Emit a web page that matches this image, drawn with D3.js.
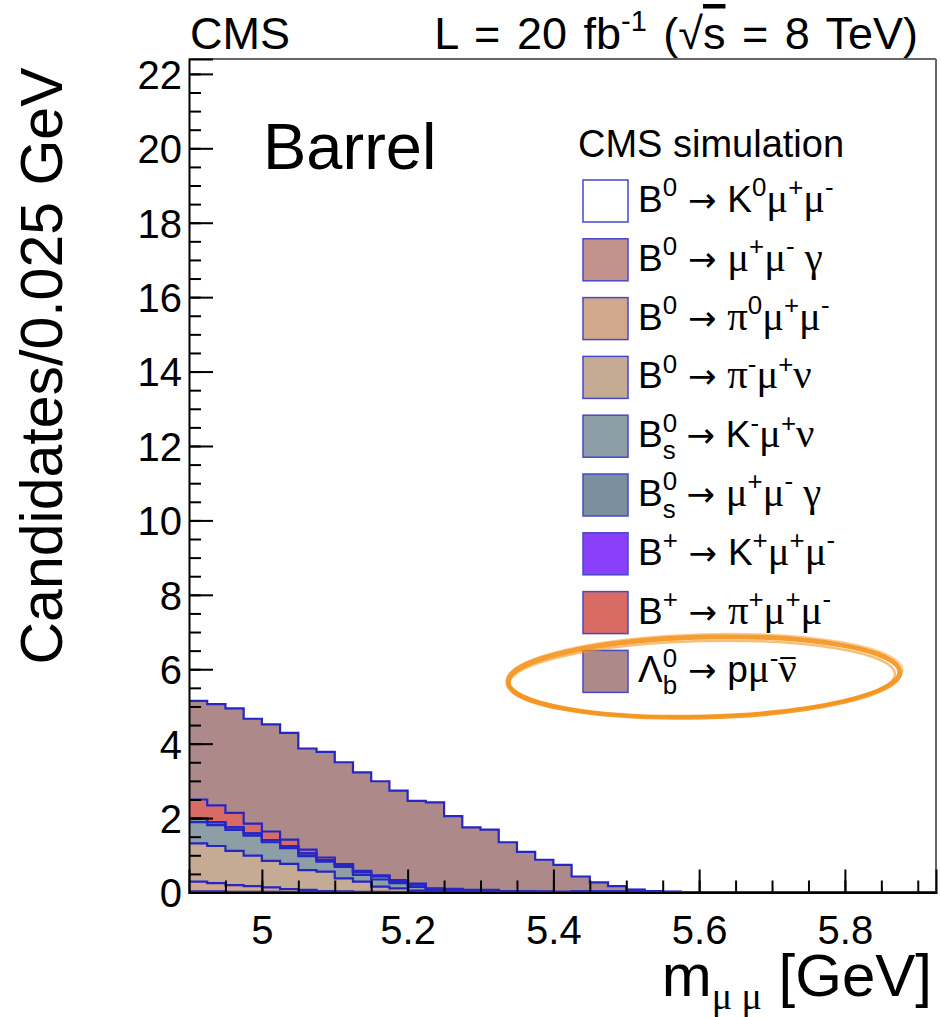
<!DOCTYPE html>
<html>
<head>
<meta charset="utf-8">
<script src="https://cdn.jsdelivr.net/npm/d3@7"></script>
<style>
  body { margin: 0; background: #fff; }
  text { font-family: "Liberation Sans", Arial, sans-serif; fill: #000; }
  .greek { font-family: "Liberation Serif", serif; }
</style>
</head>
<body>
<div id="viz"></div>
<script>
// bins: 4.9 .. 5.925 GeV, 0.025 GeV wide (41 bins)
const binLow = 4.9;
const binWidth = 0.025;

// per-bin candidates, one array per channel (stacking order, bottom first)
const k0mumu      = [0,0,0,0,0,0,0,0,0,0,0,0,0,0,0,0,0,0,0,0,0,0,0,0,0,0,0,0,0,0,0,0,0,0,0,0,0,0,0,0,0];
const b0mumugamma = [0.03,0.03,0.02,0.02,0.02,0.01,0.01,0.01,0,0,0,0,0,0,0,0,0,0,0,0,0,0,0,0,0,0,0,0,0,0,0,0,0,0,0,0,0,0,0,0,0];
const pi0mumu     = [0.26,0.22,0.18,0.15,0.12,0.08,0.06,0.03,0.03,0.02,0.02,0.01,0.01,0,0,0,0,0,0,0,0,0,0,0,0,0,0,0,0,0,0,0,0,0,0,0,0,0,0,0,0];
const pimunu      = [1.03,1.00,0.92,0.82,0.71,0.68,0.53,0.52,0.35,0.27,0.14,0.10,0.04,0.02,0.02,0.01,0.01,0,0,0,0,0,0,0,0,0,0,0,0,0,0,0,0,0,0,0,0,0,0,0,0];
const bsKmunu     = [0.57,0.56,0.56,0.54,0.50,0.42,0.38,0.27,0.31,0.18,0.19,0.14,0.10,0.04,0.03,0.02,0.02,0.01,0.01,0,0,0,0,0,0,0,0,0,0,0,0,0,0,0,0,0,0,0,0,0,0];
const bsmumugamma = [0.10,0.08,0.07,0.06,0.06,0.06,0.07,0.04,0.06,0.08,0.09,0.06,0.07,0.03,0.03,0.02,0.02,0.01,0.01,0.01,0.01,0,0,0,0,0,0,0,0,0,0,0,0,0,0,0,0,0,0,0,0];
const bpKmumu     = [0,0,0,0,0,0,0,0,0,0,0,0,0,0.01,0.01,0.01,0.01,0.01,0.01,0.01,0.01,0.03,0.03,0.03,0.07,0.04,0.02,0,0,0,0,0,0,0,0,0,0,0,0,0,0];
const bpimumu     = [0.51,0.45,0.39,0.26,0.23,0.17,0.10,0.07,0.01,0.03,0.02,0.02,0.02,0.01,0.01,0.01,0.01,0.01,0,0.01,0,0,0,0,0,0,0,0,0,0,0,0,0,0,0,0,0,0,0,0,0];
const lambdab     = [2.65,2.72,2.81,2.82,2.88,2.87,2.72,2.84,2.74,2.65,2.53,2.41,2.22,2.31,1.95,1.68,1.62,1.31,1.06,0.85,0.72,0.40,0.24,0.14,0,0,0,0,0,0,0,0,0,0,0,0,0,0,0,0,0];

const channels = [k0mumu, b0mumugamma, pi0mumu, pimunu, bsKmunu, bsmumugamma, bpKmumu, bpimumu, lambdab];
const colors = ["#ffffff", "#c4928c", "#d2a88c", "#c6ab94", "#8d9ea6", "#7a909e", "#8a40fa", "#d86c64", "#ad8a89"];

// legend labels: [text, kind]
const labels = [
  [["B",""],["0","sup"],[" → ","arr"],["K",""],["0","sup"],["μ","g"],["+","sup"],["μ","g"],["-","sup"]],
  [["B",""],["0","sup"],[" → ","arr"],["μ","g"],["+","sup"],["μ","g"],["-","sup"],[" γ","g"]],
  [["B",""],["0","sup"],[" → ","arr"],["π","g"],["0","sup"],["μ","g"],["+","sup"],["μ","g"],["-","sup"]],
  [["B",""],["0","sup"],[" → ","arr"],["π","g"],["-","sup"],["μ","g"],["+","sup"],["ν","g"]],
  [["B",""],["0","sup"],["s","sub0"],[" → ","arr"],["K",""],["-","sup"],["μ","g"],["+","sup"],["ν","g"]],
  [["B",""],["0","sup"],["s","sub0"],[" → ","arr"],["μ","g"],["+","sup"],["μ","g"],["-","sup"],[" γ","g"]],
  [["B",""],["+","sup"],[" → ","arr"],["K",""],["+","sup"],["μ","g"],["+","sup"],["μ","g"],["-","sup"]],
  [["B",""],["+","sup"],[" → ","arr"],["π","g"],["+","sup"],["μ","g"],["+","sup"],["μ","g"],["-","sup"]],
  [["Λ",""],["0","sup"],["b","sub0"],[" → ","arr"],["p",""],["μ","g"],["-","sup"],["ν","bar"]]
];

const yMajor = [0, 2, 4, 6, 8, 10, 12, 14, 16, 18, 20, 22];
const xMajor = [5, 5.2, 5.4, 5.6, 5.8];

const width = 941, height = 1017;
const plotLeft = 189, plotRight = 936, plotTop = 59, plotBottom = 892.5;
const lineBlue = "#2626c4";

const svg = d3.select("#viz").append("svg")
  .attr("width", width).attr("height", height);

const x = d3.scaleLinear().domain([4.9, 5.925]).range([plotLeft, plotRight]);
const y = d3.scaleLinear().domain([0, 22.4]).range([plotBottom, plotTop]);

svg.append("clipPath").attr("id", "plotclip")
  .append("rect").attr("x", plotLeft).attr("y", plotTop)
  .attr("width", plotRight - plotLeft).attr("height", plotBottom - plotTop);

// cumulative stacks
const nBins = lambdab.length;
let running = d3.range(nBins).map(() => 0);
const stacks = channels.map(ch => {
  running = running.map((v, i) => v + ch[i]);
  return running.slice();
});

function stepPts(cum) {
  const pts = cum.map((v, i) => [binLow + i * binWidth, v]);
  pts.push([binLow + nBins * binWidth, cum[nBins - 1]]);
  return pts;
}

const area = d3.area().curve(d3.curveStepAfter)
  .x(d => x(d[0])).y0(y(0)).y1(d => y(d[1]));
const line = d3.line().curve(d3.curveStepAfter)
  .x(d => x(d[0])).y(d => y(d[1]));

const hist = svg.append("g").attr("clip-path", "url(#plotclip)");
// draw from the top of the stack down
for (let k = stacks.length - 1; k >= 0; k--) {
  hist.append("path").attr("d", area(stepPts(stacks[k]))).attr("fill", colors[k]);
}
for (let k = stacks.length - 1; k >= 0; k--) {
  hist.append("path").attr("d", line(stepPts(stacks[k])))
    .attr("fill", "none").attr("stroke", lineBlue).attr("stroke-width", 2.2);
}

// frame
svg.append("line").attr("x1", plotLeft).attr("x2", plotRight).attr("y1", plotTop).attr("y2", plotTop)
  .attr("stroke", "#666").attr("stroke-width", 2);
svg.append("line").attr("x1", plotRight).attr("x2", plotRight).attr("y1", plotTop).attr("y2", plotBottom)
  .attr("stroke", "#666").attr("stroke-width", 2);

// y axis
const yAxis = svg.append("g").attr("transform", "translate(" + plotLeft + ",0)")
  .call(d3.axisLeft(y).tickValues(yMajor).tickSize(-24).tickPadding(7));
svg.append("g").attr("transform", "translate(" + plotLeft + ",0)")
  .call(d3.axisLeft(y).tickValues(d3.range(0, 22.5, 0.5)).tickSize(-12).tickFormat(""))
  .call(g => g.select(".domain").remove());
yAxis.selectAll("text").attr("font-size", 40).attr("dy", "0.36em")
  .style("font-family", "Liberation Sans, Arial, sans-serif");

// x axis
const xAxis = svg.append("g").attr("transform", "translate(0," + plotBottom + ")")
  .call(d3.axisBottom(x).tickValues(xMajor).tickSize(-23).tickPadding(23).tickFormat(d3.format("")));
svg.append("g").attr("transform", "translate(0," + plotBottom + ")")
  .call(d3.axisBottom(x).tickValues(d3.range(4.95, 5.93, 0.05)).tickSize(-12).tickFormat(""))
  .call(g => g.select(".domain").remove());
xAxis.selectAll("text").attr("font-size", 40)
  .style("font-family", "Liberation Sans, Arial, sans-serif");
svg.selectAll(".domain").attr("stroke", "#000").attr("stroke-width", 2);
svg.selectAll(".tick line").attr("stroke", "#000").attr("stroke-width", 2);

// axis titles
svg.append("text")
  .attr("transform", "translate(62,366) rotate(-90)")
  .attr("text-anchor", "middle").attr("font-size", 59)
  .text("Candidates/0.025 GeV");

const xt = svg.append("text").attr("x", 932).attr("y", 996)
  .attr("text-anchor", "end").attr("font-size", 60);
xt.append("tspan").text("m");
xt.append("tspan").attr("class", "greek").attr("font-size", 38).attr("dy", 13).text("μ μ");
xt.append("tspan").attr("dy", -13).text(" [GeV]");

// header
svg.append("text").attr("x", 190).attr("y", 49).attr("font-size", 45).text("CMS");
const hd = svg.append("text").attr("x", 918).attr("y", 49).attr("text-anchor", "end")
  .attr("font-size", 45).style("word-spacing", "4px");
hd.append("tspan").text("L = 20 fb");
hd.append("tspan").attr("font-size", 29).attr("dy", -18).text("-1");
hd.append("tspan").attr("dy", 18).text(" (√");
hd.append("tspan").style("text-decoration", "overline").text("s");
hd.append("tspan").text(" = 8 TeV)");

svg.append("text").attr("x", 263).attr("y", 169).attr("font-size", 65).text("Barrel");

// legend
svg.append("text").attr("x", 578).attr("y", 157).attr("font-size", 38).text("CMS simulation");

const fs = 37;
function richText(t, segs) {
  let cur = 0;
  segs.forEach(s => {
    const kind = s[1];
    let off = 0, size = fs, dx = 0, greek = false;
    if (kind === "sup") { off = -0.42 * fs; size = 0.7 * fs; }
    if (kind === "sub0") { off = 0.32 * fs; size = 0.7 * fs; dx = -0.556 * 0.7 * fs; }
    if (kind === "g" || kind === "bar") { greek = true; size = 1.1 * fs; }
    const ts = t.append("tspan").attr("dy", off - cur).attr("font-size", size).text(s[0]);
    if (dx) ts.attr("dx", dx);
    if (greek) ts.attr("class", "greek");
    if (kind === "arr") ts.style("font-family", "DejaVu Sans, sans-serif").attr("font-size", 34);
    cur = off;
  });
}

const leg = svg.append("g");
labels.forEach((lab, i) => {
  const ty = 180 + i * 58.8;
  leg.append("rect").attr("x", 583).attr("y", ty).attr("width", 45).attr("height", 42)
    .attr("fill", colors[i]).attr("stroke", "#4848c8").attr("stroke-width", 1.5);
  const t = leg.append("text").attr("x", 638).attr("y", ty + 32).attr("font-size", fs);
  richText(t, lab);
  // bar over the anti-neutrino
  if (lab[lab.length - 1][1] === "bar") {
    const n = t.node();
    const ext = n.getExtentOfChar(n.getNumberOfChars() - 1);
    leg.append("line").attr("x1", ext.x + 2).attr("x2", ext.x + ext.width - 1)
      .attr("y1", ty + 32 - 0.5 * fs * 1.1 - 4).attr("y2", ty + 32 - 0.5 * fs * 1.1 - 4)
      .attr("stroke", "#000").attr("stroke-width", 2);
  }
});

// hand-drawn highlight around the Lambda_b entry
const ell = svg.append("g").attr("transform", "translate(704,677) rotate(-1.5)");
[[196, 40, 0, 0, 5, 0.9], [193, 38, -2, 2, 2.5, 0.6], [198, 41, 1, -2, 1.5, 0.5]].forEach(e => {
  ell.append("ellipse").attr("cx", e[2]).attr("cy", e[3]).attr("rx", e[0]).attr("ry", e[1])
    .attr("fill", "none").attr("stroke", "#f5921b").attr("stroke-width", e[4]).attr("opacity", e[5]);
});
</script>
</body>
</html>
